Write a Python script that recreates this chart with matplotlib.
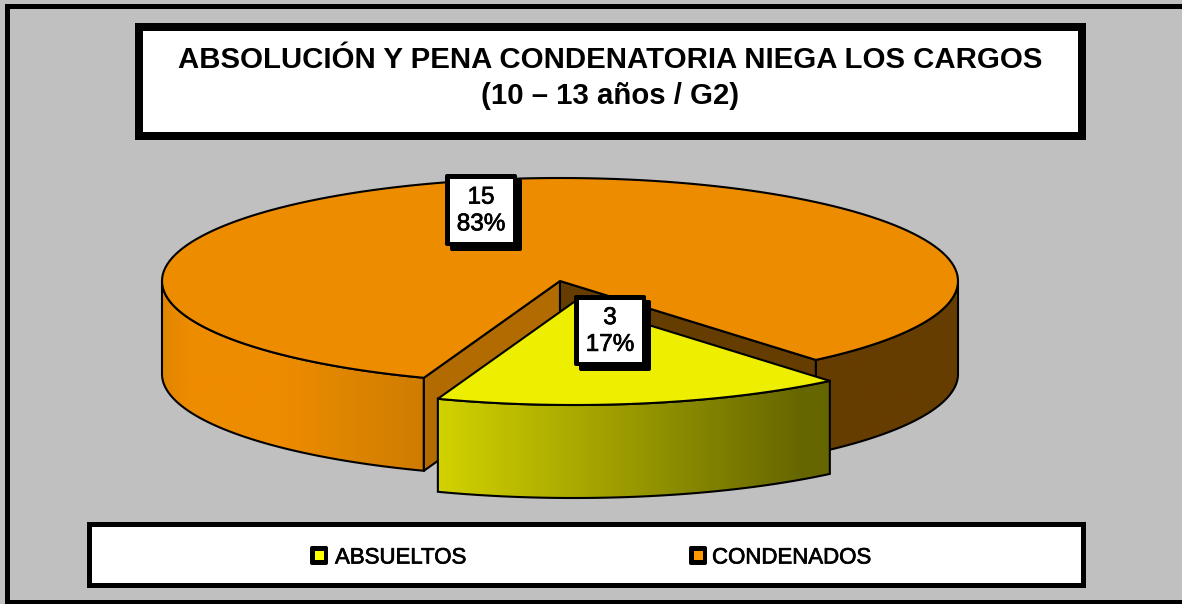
import numpy as np
import matplotlib
matplotlib.use("Agg")
import matplotlib.pyplot as plt
import matplotlib.patheffects as pe
from matplotlib.colors import LinearSegmentedColormap
from matplotlib.patches import Rectangle, Polygon, FancyBboxPatch

TITLE = "ABSOLUCIÓN Y PENA CONDENATORIA NIEGA LOS CARGOS\n(10 – 13 años / G2)"
categories = ["ABSUELTOS", "CONDENADOS"]
values = [3, 15]
top_colors = ["#EEEE00", "#EE8C00"]
legend_colors = ["#FFFF00", "#FF9900"]

W, H = 1182, 604
fig = plt.figure(figsize=(W / 100, H / 100), dpi=100, facecolor="#C0C0C0")
ax = fig.add_axes([0, 0, 1, 1])
ax.set_xlim(0, W)
ax.set_ylim(H, 0)
ax.axis("off")

FONT = ["Liberation Sans", "DejaVu Sans"]


def frame(x0, y0, x1, y1, lw, z=1):
    """black frame whose outer edge is x0..x1, y0..y1, with border lw px"""
    ax.add_patch(Rectangle((x0, y0), x1 - x0, y1 - y0, fc="black", ec="none", zorder=z))
    ax.add_patch(Rectangle((x0 + lw, y0 + lw), x1 - x0 - 2 * lw, y1 - y0 - 2 * lw,
                           fc="white", ec="none", zorder=z + 0.1))


# outer border (left, top, bottom; the right side runs off the picture)
ax.add_patch(Rectangle((5, 4), W, 5, fc="black", ec="none"))
ax.add_patch(Rectangle((5, 4), 5, 600, fc="black", ec="none"))
ax.add_patch(Rectangle((5, 600), W, 4, fc="black", ec="none"))

# title
frame(135, 23, 1086, 140, 8)
ax.text(610, 78, TITLE, ha="center", va="center", fontsize=21.2, fontweight="bold",
        family=FONT, linespacing=1.36, color="black", zorder=3)

# pie geometry
CX, CY, RX, RY, DEPTH = 560, 281, 398, 103, 93
EXPLODE = {0: (14, 21), 1: (0, 0)}
FIRST = 140.0  # clock angle of first slice
EDGE_LW = 1.5
total = sum(values)
shares = [v / total * 360 for v in values]
starts = [FIRST + sum(shares[:i]) for i in range(len(values))]


def rim(a0, a1, off=(0, 0), n=160):
    t = np.radians(np.linspace(a0, a1, n))
    return np.column_stack([CX + off[0] + RX * np.sin(t), CY + off[1] - RY * np.cos(t)])


def flat(pts, color, z):
    ax.add_patch(Polygon(pts, closed=True, fc=color, ec="black", lw=EDGE_LW, joinstyle="round", zorder=z))


def wall(a0, a1, off, cmap, z):
    top = rim(a0, a1, off)
    bot = top + [0, DEPTH]
    pts = np.vstack([top, bot[::-1]])
    poly = Polygon(pts, closed=True, fc="none", ec="black", lw=EDGE_LW, zorder=z + 0.1)
    ax.add_patch(poly)
    img = ax.imshow(np.linspace(0, 1, 256)[None, :], cmap=cmap, aspect="auto", zorder=z,
                    extent=[pts[:, 0].min(), pts[:, 0].max(), pts[:, 1].max(), pts[:, 1].min()],
                    interpolation="bilinear")
    img.set_clip_path(poly)
    ax.set_xlim(0, W)
    ax.set_ylim(H, 0)


orange_wall = LinearSegmentedColormap.from_list(
    "o", [(0, "#E08500"), (0.1, "#EE8C00"), (0.45, "#EE8C00"), (0.75, "#DC8400"), (1, "#CE7C00")])
yellow_wall = LinearSegmentedColormap.from_list("y", [(0, "#D2D200"), (0.93, "#666600"), (1, "#666600")])
brown_wall = LinearSegmentedColormap.from_list("b", ["#663D00", "#663D00"])

# orange slice (index 1): spans starts[1] .. starts[1] + shares[1]
a0, a1 = starts[1], starts[1] + shares[1]
apex = np.array([CX, CY], float)
d = np.array([0, DEPTH])


def edge(a):
    return rim(a, a, n=1)[0]


# outer walls that can be seen: right part (to the 90 deg point), left part (to the 270 deg point)
wall(90, FIRST, (0, 0), brown_wall, 2)
wall(a0, 270, (0, 0), orange_wall, 2)
# cut faces of the orange slice
flat([apex, edge(a0), edge(a0) + d, apex + d], "#B26B00", 2.5)
flat([apex, edge(a1 % 360), edge(a1 % 360) + d, apex + d], "#663D00", 2.5)
flat(np.vstack([[apex], rim(a0, a1)]), top_colors[1], 3)

# yellow slice (index 0)
off = EXPLODE[0]
wall(starts[0], starts[0] + shares[0], off, yellow_wall, 4)
flat(np.vstack([[apex + off], rim(starts[0], starts[0] + shares[0], off)]), top_colors[0], 5)


# data labels
def label(x0, y0, x1, y1, cat_i):
    v = values[cat_i]
    ax.add_patch(FancyBboxPatch((x0 + 5, y0 + 5), x1 - x0, y1 - y0, boxstyle="round,pad=0,rounding_size=2",
                                fc="black", ec="none", zorder=6))
    ax.add_patch(FancyBboxPatch((x0, y0), x1 - x0, y1 - y0, boxstyle="round,pad=0,rounding_size=2",
                                fc="black", ec="none", zorder=6.1))
    ax.add_patch(Rectangle((x0 + 4.5, y0 + 4.5), x1 - x0 - 9, y1 - y0 - 9, fc="white", ec="none", zorder=6.2))
    t = ax.text((x0 + x1) / 2, (y0 + y1) / 2 + 1, f"{v}\n{round(100 * v / total)}%", ha="center", va="center",
                fontsize=17.5, family=FONT, linespacing=1.28, color="black", zorder=7)
    t.set_path_effects([pe.withStroke(linewidth=0.5, foreground="black")])


label(445, 174, 517, 246, 1)
label(574, 295, 646, 366, 0)

# legend
frame(87, 522, 1086, 588, 5)
legend_pos = [(310, 335), (689, 712)]
for (mx, tx), cat, col in zip(legend_pos, categories, legend_colors):
    ax.add_patch(FancyBboxPatch((mx, 546), 18, 19, boxstyle="round,pad=0,rounding_size=2",
                                fc="black", ec="none", zorder=3))
    ax.add_patch(Rectangle((mx + 5, 551), 9, 9, fc=col, ec="none", zorder=3.1))
    t = ax.text(tx, 558, cat, ha="left", va="center", fontsize=16, family=FONT, color="black", zorder=3)
    t.set_path_effects([pe.withStroke(linewidth=0.5, foreground="black")])

fig.savefig("out.png", dpi=100, facecolor=fig.get_facecolor())
